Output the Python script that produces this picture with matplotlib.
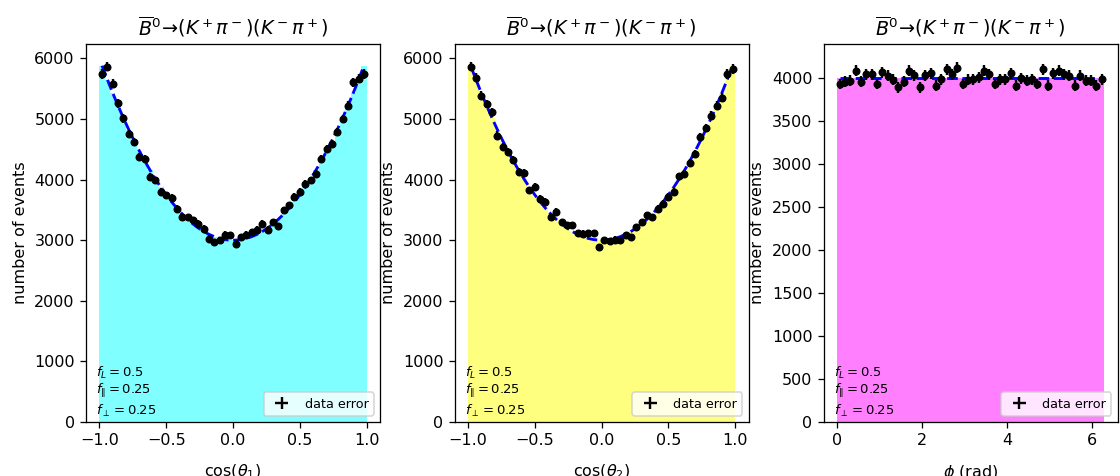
import numpy as np
import matplotlib
matplotlib.use("Agg")
import matplotlib.pyplot as plt

# polarisation fractions shown on the chart
f_L = 0.5
f_par = 0.25
f_perp = 0.25
n_events = 200000
n_bins = 50

counts_cos1 = [5745, 5865, 5580, 5260, 5013, 4756, 4618, 4371, 4344, 4041,
               3987, 3794, 3740, 3702, 3520, 3382, 3382, 3328, 3273, 3191,
               3026, 2970, 2998, 3092, 3080, 2943, 3053, 3092, 3135, 3174,
               3273, 3174, 3300, 3234, 3493, 3575, 3712, 3794, 3932, 3987,
               4097, 4344, 4509, 4591, 4783, 5003, 5222, 5606, 5662, 5745]
counts_cos2 = [5865, 5679, 5387, 5250, 5112, 4728, 4535, 4453, 4327, 4124,
               4107, 3822, 3876, 3685, 3630, 3382, 3465, 3300, 3245, 3245,
               3119, 3108, 3119, 3119, 2888, 2998, 2987, 3009, 2998, 3080,
               3053, 3218, 3300, 3410, 3382, 3520, 3602, 3712, 3794, 4053,
               4086, 4272, 4426, 4701, 4855, 5057, 5222, 5349, 5745, 5827]
counts_phi = [3935, 3960, 3973, 4089, 3960, 4050, 4050, 3935, 4070, 4030,
              3985, 3896, 3960, 4089, 4038, 3896, 4038, 4062, 3915, 3992,
              4108, 4050, 4127, 3935, 3985, 3992, 4012, 4089, 4050, 3935,
              3992, 3992, 4062, 3915, 4000, 3973, 3992, 3935, 4108, 3915,
              4062, 4089, 4050, 4030, 3915, 4030, 3973, 3973, 3915, 3992]

dpi = 115
fig = plt.figure(figsize=(1120 / dpi, 476 / dpi), dpi=dpi)
title = r"$\overline{B}^0\!\to\!(K^+\pi^-)(K^-\pi^+)$"
lefts = [86 / 1120, 454.6 / 1120, 823.6 / 1120]
colors = ["cyan", "yellow", "magenta"]
xlabels = [r"cos($\theta_1$)", r"cos($\theta_2$)", r"$\phi$ (rad)"]
datasets = [counts_cos1, counts_cos2, counts_phi]
ranges = [(-1.0, 1.0), (-1.0, 1.0), (0.0, 2 * np.pi)]

for i in range(3):
    ax = fig.add_axes([lefts[i], 54 / 476, 294 / 1120, 378 / 476])
    lo, hi = ranges[i]
    edges = np.linspace(lo, hi, n_bins + 1)
    centers = 0.5 * (edges[1:] + edges[:-1])
    width = edges[1] - edges[0]
    y = np.array(datasets[i])
    if i < 2:
        def model(c):
            return n_events * width * (1.5 * f_L * c ** 2 + 0.75 * (f_par + f_perp) * (1 - c ** 2))
    else:
        def model(p):
            return n_events * width / (2 * np.pi) * np.ones_like(p)
    ax.hist(centers, bins=edges, weights=model(centers), color=colors[i], alpha=0.5)
    ax.plot(centers, model(centers), "b--", lw=1.8)
    ax.errorbar(centers, y, yerr=np.sqrt(y), xerr=width / 2, fmt="none",
                ecolor="k", elinewidth=1.5, label="data error")
    ax.plot(centers, y, "ko", ms=4)
    ax.set_title(title)
    ax.set_xlabel(xlabels[i], labelpad=9)
    ax.set_ylabel("number of events")
    ax.text(0.035, 0.13, r"$f_L = 0.5$", transform=ax.transAxes, fontsize=8.2, va="center")
    ax.text(0.035, 0.083, r"$f_{\|} = 0.25$", transform=ax.transAxes, fontsize=8.2, va="center")
    ax.text(0.035, 0.03, r"$f_{\perp} = 0.25$", transform=ax.transAxes, fontsize=8.2, va="center")
    ax.legend(loc="lower right", fontsize=8)

fig.savefig("out.png", dpi=dpi)
